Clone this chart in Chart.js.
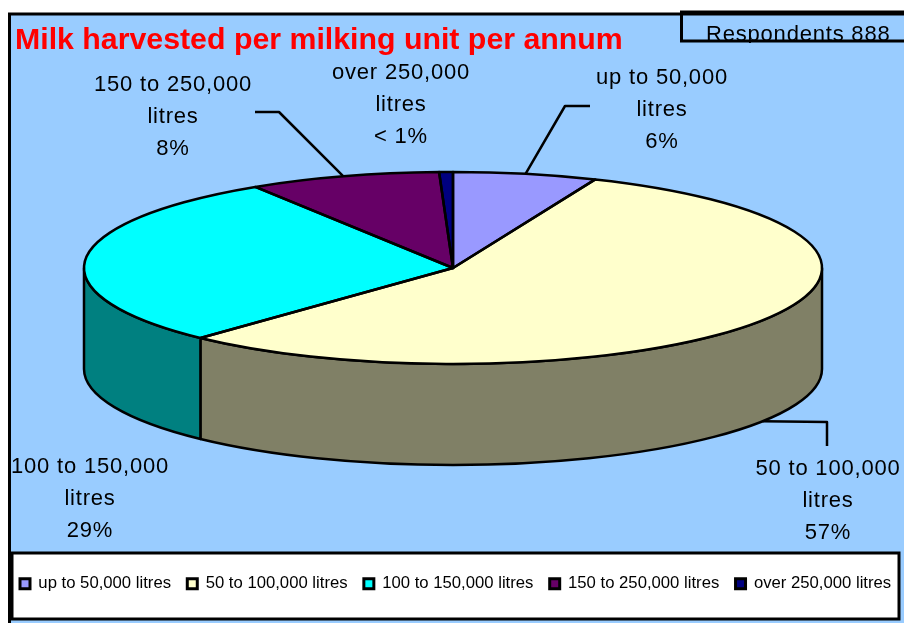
<!DOCTYPE html>
<html>
<head>
<meta charset="utf-8">
<title>Milk harvested per milking unit per annum</title>
<script src="https://cdn.jsdelivr.net/npm/chart.js@4"></script>
<style>
    body { margin: 0; background: #fff; }
    canvas { display: block; }
</style>
</head>
<body>
<canvas id="pie" width="904" height="623"></canvas>
<script>
// Data
const categories = ['up to 50,000 litres', '50 to 100,000 litres', '100 to 150,000 litres', '150 to 250,000 litres', 'over 250,000 litres'];
const shares = [6.3, 55.7, 29.0, 8.4, 0.6];
const sliceNames = [['up to 50,000', 'litres'], ['50 to 100,000', 'litres'], ['100 to 150,000', 'litres'], ['150 to 250,000', 'litres'], ['over 250,000', 'litres']];
const shareLabels = ['6%', '57%', '29%', '8%', '< 1%'];
const topColors = ['#9999FF', '#FFFFCC', '#00FFFF', '#660066', '#000080'];
const sideColors = ['#4D4D80', '#808066', '#008080', '#330033', '#000040'];
const titleText = 'Milk harvested per milking unit per annum';
const respondentsText = 'Respondents 888';

// Squashed pie: centre, radii and wall height on the page
const PIE = { cx: 453, cy: 268, rx: 369, ry: 96, depth: 101 };
const FONT = '"Liberation Sans", Arial, sans-serif';
const OUTLINE = 2.5;

// Where the hand placed data labels sit, in slice order
const labelSpots = [
    { x: 662, y: 78 },
    { x: 828, y: 469 },
    { x: 90, y: 467 },
    { x: 173, y: 85 },
    { x: 401, y: 73 }
];
// Leader lines: slice, rim it leaves from, then its elbow and end
const leaders = [
    { slice: 0, wall: false, elbow: [565, 106], end: [590, 106] },
    { slice: 1, wall: true, elbow: [827, 422], end: [827, 446] },
    { slice: 3, wall: false, elbow: [279, 112], end: [255, 112] }
];

const arcsOf = chart => chart.getDatasetMeta(0).data;

const pieBackdrop = {
    id: 'pieBackdrop',
    afterLayout(chart) {
        // the legend needs the narrow left padding, the title sits a little further in
        chart.titleBlock.left += 2;
    },
    beforeDraw(chart) {
        const ctx = chart.ctx;
        ctx.save();
        ctx.fillStyle = '#fff';
        ctx.fillRect(0, 0, 904, 623);
        ctx.fillStyle = '#99CCFF';
        ctx.fillRect(9, 14, 895, 609);
        ctx.strokeStyle = '#000';
        ctx.lineWidth = 3;
        ctx.beginPath();
        ctx.moveTo(904, 14);
        ctx.lineTo(9.5, 14);
        ctx.lineTo(9.5, 623);
        ctx.stroke();
        // legend panel
        ctx.fillStyle = '#fff';
        ctx.fillRect(12, 553, 887, 66);
        ctx.strokeRect(12, 553, 887, 66);
        ctx.restore();
    }
};

const pieDepth = {
    id: 'pieDepth',
    beforeDatasetsDraw(chart) {
        const ctx = chart.ctx;
        ctx.save();
        ctx.lineWidth = OUTLINE;
        ctx.strokeStyle = '#000';
        ctx.lineJoin = 'round';
        // walls of the slices that face us
        arcsOf(chart).forEach((arc, i) => {
            const ranges = [[arc.startAngle, arc.endAngle], [arc.startAngle - 2 * Math.PI, arc.endAngle - 2 * Math.PI]];
            ranges.forEach(([a0, a1]) => {
                const a = Math.max(a0, 0);
                const b = Math.min(a1, Math.PI);
                if (b <= a) return;
                ctx.beginPath();
                ctx.ellipse(PIE.cx, PIE.cy + PIE.depth, PIE.rx, PIE.ry, 0, a, b);
                ctx.ellipse(PIE.cx, PIE.cy, PIE.rx, PIE.ry, 0, b, a, true);
                ctx.closePath();
                ctx.fillStyle = sideColors[i];
                ctx.fill();
                ctx.stroke();
            });
        });
        ctx.restore();
        // flatten the library's round pie to the top ellipse
        const first = arcsOf(chart)[0];
        const r = first.outerRadius;
        ctx.save();
        ctx.translate(PIE.cx, PIE.cy);
        ctx.scale(PIE.rx / r, PIE.ry / r);
        ctx.translate(-first.x, -first.y);
    },
    afterDatasetsDraw(chart) {
        const ctx = chart.ctx;
        ctx.restore();
        ctx.save();
        ctx.lineWidth = OUTLINE;
        ctx.strokeStyle = '#000';
        ctx.lineJoin = 'round';
        arcsOf(chart).forEach(arc => {
            ctx.beginPath();
            ctx.moveTo(PIE.cx, PIE.cy);
            ctx.ellipse(PIE.cx, PIE.cy, PIE.rx, PIE.ry, 0, arc.startAngle, arc.endAngle);
            ctx.closePath();
            ctx.stroke();
        });
        // leader lines start at the middle of their slice
        leaders.forEach(l => {
            const arc = arcsOf(chart)[l.slice];
            const mid = (arc.startAngle + arc.endAngle) / 2;
            ctx.beginPath();
            ctx.moveTo(PIE.cx + PIE.rx * Math.cos(mid), PIE.cy + PIE.ry * Math.sin(mid) + (l.wall ? PIE.depth : 0));
            ctx.lineTo(l.elbow[0], l.elbow[1]);
            ctx.lineTo(l.end[0], l.end[1]);
            ctx.stroke();
        });
        ctx.restore();
    }
};

const pieTexts = {
    id: 'pieTexts',
    afterDraw(chart) {
        const ctx = chart.ctx;
        ctx.save();
        ctx.fillStyle = '#000';
        ctx.textAlign = 'center';
        ctx.textBaseline = 'middle';
        ctx.font = '22px ' + FONT;
        ctx.letterSpacing = '0.8px';
        labelSpots.forEach((spot, i) => {
            const lines = sliceNames[i].concat(shareLabels[i]);
            lines.forEach((line, n) => ctx.fillText(line, spot.x, spot.y + n * 32));
        });
        // Respondents box, its text cut off by the bottom edge as in the original
        ctx.save();
        ctx.beginPath();
        ctx.rect(683, 14, 221, 29);
        ctx.clip();
        ctx.textAlign = 'left';
        ctx.textBaseline = 'alphabetic';
        ctx.fillText(respondentsText, 706, 41);
        ctx.restore();
        ctx.strokeStyle = '#000';
        ctx.lineWidth = 3;
        ctx.beginPath();
        ctx.moveTo(904, 12);
        ctx.lineTo(681.5, 12);
        ctx.lineTo(681.5, 41);
        ctx.lineTo(904, 41);
        ctx.stroke();
        ctx.restore();
    }
};

new Chart(document.getElementById('pie'), {
    type: 'pie',
    data: {
        labels: categories,
        datasets: [{
            data: shares,
            backgroundColor: topColors,
            borderWidth: 0
        }]
    },
    options: {
        responsive: false,
        animation: false,
        layout: { padding: { left: 13, right: 0, top: 14, bottom: 21 } },
        plugins: {
            tooltip: { enabled: false },
            title: {
                display: true,
                text: titleText,
                align: 'start',
                color: '#FF0000',
                font: { family: FONT, size: 30.3, weight: 'bold' },
                padding: { top: 8, bottom: 8 }
            },
            legend: {
                position: 'bottom',
                align: 'start',
                labels: {
                    boxWidth: 10,
                    boxHeight: 10,
                    padding: 7,
                    color: '#000',
                    font: { family: FONT, size: 16.7 },
                    // two trailing spaces keep the items apart without forcing a second row
                    generateLabels: chart => categories.map((name, i) => ({
                        text: i < categories.length - 1 ? name + '  ' : name,
                        fillStyle: topColors[i],
                        strokeStyle: '#000',
                        lineWidth: 3,
                        index: i
                    }))
                }
            }
        }
    },
    plugins: [pieBackdrop, pieDepth, pieTexts]
});
</script>
</body>
</html>
